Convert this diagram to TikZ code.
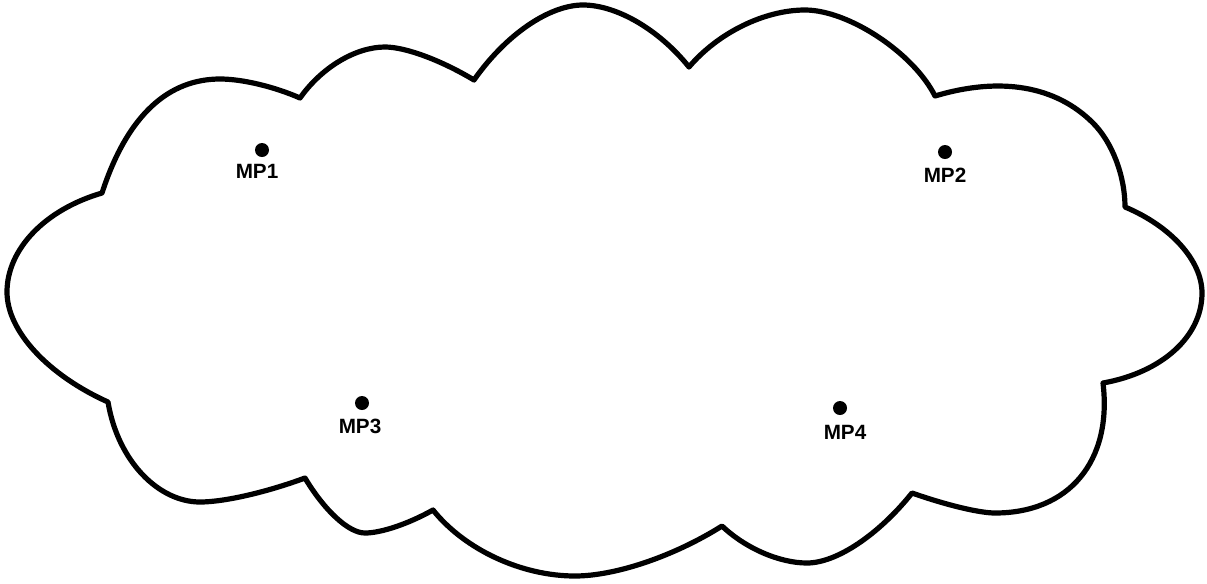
\documentclass[tikz,border=0pt]{standalone}
\usepackage{fontspec}
\setmainfont{Liberation Sans}
\begin{document}
\begin{tikzpicture}[x=0.75pt,y=-0.75pt,
  cloudline/.style={line width=3.9pt,line join=round,line cap=round,black},
  mpdot/.style={circle,fill=black,inner sep=0pt,minimum size=10.5pt},
  mplabel/.style={font=\bfseries\fontsize{15.5pt}{17pt}\selectfont,inner sep=0pt}]
\useasboundingbox (0,0) rectangle (1207,583);
\coordinate (A) at (300,98);
\coordinate (B) at (474,80);
\coordinate (C) at (689,67);
\coordinate (D) at (935,96);
\coordinate (E) at (1125,207);
\coordinate (F) at (1103,383);
\coordinate (G) at (912,493);
\coordinate (H) at (722,526);
\coordinate (I) at (433,510);
\coordinate (J) at (305,478);
\coordinate (K) at (108,402);
\coordinate (L) at (102,193);
\draw[cloudline] (L)
  .. controls (128,113) and (170,79) .. (220,79)
  .. controls (243,79) and (275,87) .. (A)
  .. controls (321.6,67.4) and (355.6,47) .. (385,47)
  .. controls (405.4,47) and (441,60.2) .. (B)
  .. controls (505.5,35) and (549,5) .. (583,5)
  .. controls (616.8,5) and (659.2,29.8) .. (C)
  .. controls (718,32.8) and (764.5,10) .. (805,10)
  .. controls (848.5,10) and (913.5,53) .. (D)
  .. controls (1000.5,76.4) and (1055.8,85.8) .. (1093,123)
  .. controls (1112.2,142.2) and (1125,175.8) .. (E)
  .. controls (1171.2,226.4) and (1202,260.8) .. (1202,293)
  .. controls (1202,336.3) and (1162.4,372.3) .. (F)
  .. controls (1112.4,461) and (1069.2,513) .. (995,513)
  .. controls (979.4,513) and (946.2,505) .. (G)
  .. controls (878.4,535) and (836.4,563) .. (807,563)
  .. controls (779.4,563) and (745.4,548.2) .. (H)
  .. controls (674.4,556) and (615.6,576) .. (575,576)
  .. controls (521.5,576) and (464.7,549.6) .. (I)
  .. controls (408.4,523.8) and (381.2,533) .. (365,533)
  .. controls (348.8,533) and (324.8,511) .. (J)
  .. controls (266,492.4) and (224,502) .. (200,502)
  .. controls (159.2,502) and (118,462) .. (K)
  .. controls (47.4,374.7) and (7,330.7) .. (7,292)
  .. controls (7,249.2) and (45,209.6) .. (L)
  -- cycle;
\node[mpdot] (d1) at (262,150) {};
\node[mpdot] (d2) at (945,152) {};
\node[mpdot] (d3) at (362,403) {};
\node[mpdot] (d4) at (840,408) {};
\node[mplabel] (l1) at (257,171) {MP1};
\node[mplabel] (l2) at (945,175) {MP2};
\node[mplabel] (l3) at (360,426) {MP3};
\node[mplabel] (l4) at (845,432) {MP4};
\end{tikzpicture}
\end{document}
